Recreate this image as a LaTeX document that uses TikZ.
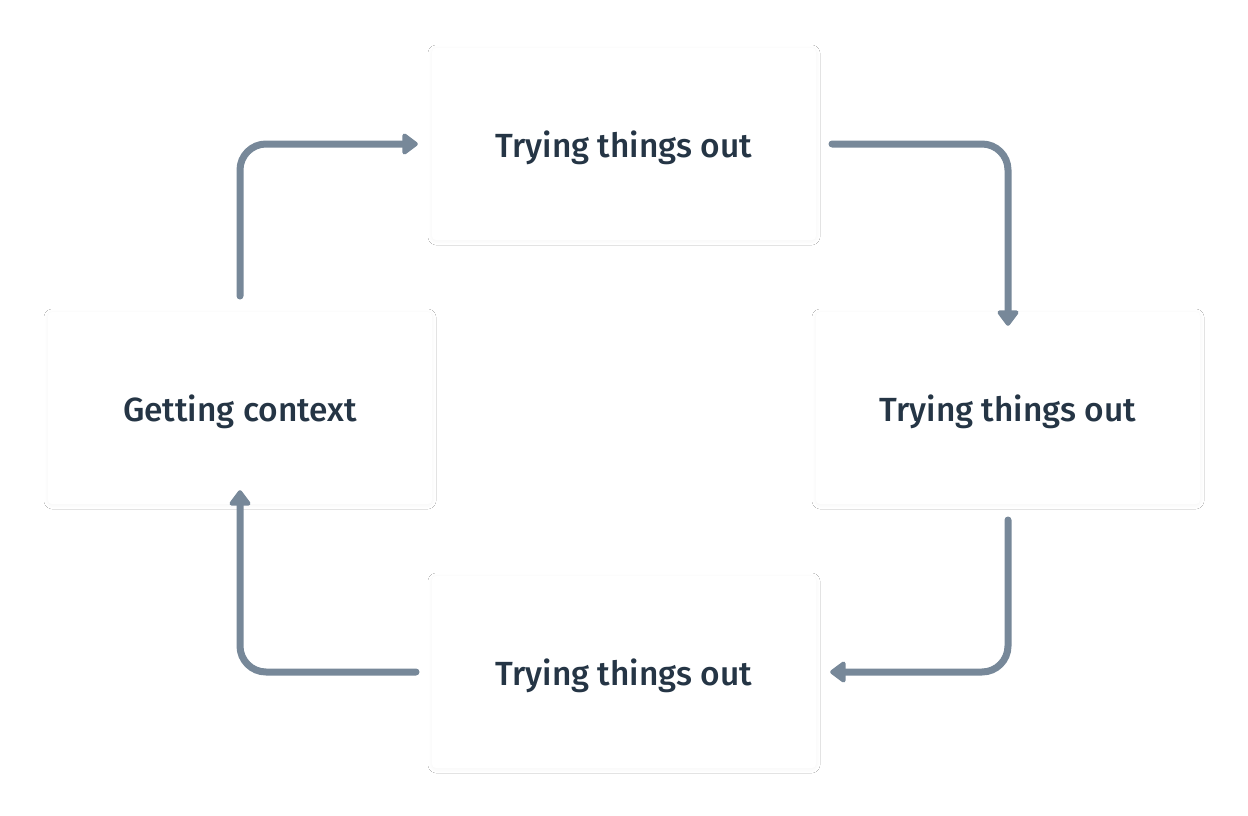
\documentclass[tikz,border=0pt]{standalone}
\usepackage{fontspec}
\setmainfont{Fira Sans}[UprightFont=* Medium]
\usetikzlibrary{arrows.meta,shadows.blur}
\definecolor{arrowc}{HTML}{778899}
\definecolor{textc}{HTML}{253545}
\tikzset{
  card/.style={draw=none,fill=white,rounded corners=4pt,minimum width=384pt,minimum height=192pt,
    text=textc,font=\fontsize{33.5}{38}\selectfont,text depth=0pt,
    blur shadow={shadow blur steps=10,shadow xshift=0pt,shadow yshift=-1pt,shadow blur radius=4pt,shadow opacity=4}},
  flow/.style={draw=arrowc,line width=7pt,line cap=round,rounded corners=26pt,
    -{Triangle[length=17pt,width=24pt,round]}}
}
\begin{document}
\begin{tikzpicture}[x=1pt,y=-1pt]
\useasboundingbox (0,0) rectangle (1248,816);
\fill[white] (0,0) rectangle (1248,816);
\node[card] (top) at (624,144) {Trying things out};
\node[card] (left) at (240,408) {Getting context};
\node[card] (right) at (1008,408) {Trying things out};
\node[card] (bottom) at (624,672) {Trying things out};
\coordinate (a1) at (240,296);
\coordinate (a2) at (832,144);
\coordinate (a3) at (1008,520);
\coordinate (a4) at (416,672);
\draw[flow] (a1) |- ([xshift=-14pt]top.west);
\draw[flow] (a2) -| ([yshift=-14pt]right.north);
\draw[flow] (a3) |- ([xshift=14pt]bottom.east);
\draw[flow] (a4) -| ([yshift=14pt]left.south);
\end{tikzpicture}
\end{document}
